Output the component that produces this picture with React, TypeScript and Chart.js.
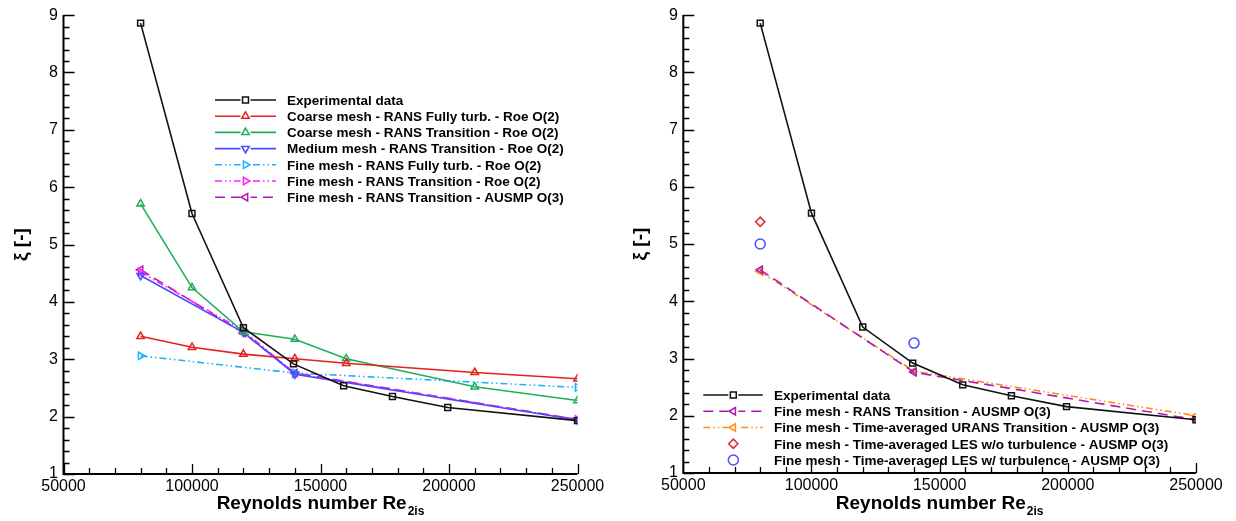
import React, { useEffect, useRef } from "react";
import { Chart, registerables } from "chart.js";
import { drawPoint } from "chart.js/helpers";

Chart.register(...registerables);

// ---------- axis ticks ----------
const xMin = 50000;
const xMax = 250000;
const xStep = 50000;
const xMinorStep = 10000;
const yMin = 1;
const yMax = 9;
const yStep = 1;
const yMinorStep = 0.2;

// ---------- data ----------
const reExp = [80000, 100000, 120000, 139500, 159000, 178000, 199500, 250000];
const xiExp = [8.86, 5.54, 3.55, 2.92, 2.54, 2.35, 2.16, 1.93];

const reCoarse = [80000, 100000, 120000, 140000, 160000, 210000, 250000];
const xiCoarseFT = [3.4, 3.21, 3.09, 3.01, 2.93, 2.77, 2.66];
const xiCoarseTr = [5.71, 4.25, 3.48, 3.35, 3.01, 2.52, 2.28];

const reMedium = [80000, 120000, 140000, 250000];
const xiMediumTr = [4.46, 3.47, 2.74, 1.94];

const reFineFT = [80000, 140000, 250000];
const xiFineFT = [3.06, 2.76, 2.51];

const reFineTrRoe = [80000, 120000, 140000, 250000];
const xiFineTrRoe = [4.52, 3.5, 2.75, 1.95];

const reFineTrAusmpL = [80000, 120000, 140000, 250000];
const xiFineTrAusmpL = [4.56, 3.46, 2.76, 1.95];

const reFineTrAusmpR = [80000, 140000, 250000];
const xiFineTrAusmpR = [4.55, 2.76, 1.93];

const reUrans = [80000, 140000, 250000];
const xiUrans = [4.52, 2.78, 2.0];

const reLesNoTurb = [80000];
const xiLesNoTurb = [5.39];

const reLesTurb = [80000, 140000];
const xiLesTurb = [5.0, 3.27];

const labelsLeft = [
  "Experimental data",
  "Coarse mesh - RANS Fully turb. - Roe O(2)",
  "Coarse mesh - RANS Transition - Roe O(2)",
  "Medium mesh - RANS Transition - Roe O(2)",
  "Fine mesh - RANS Fully turb. - Roe O(2)",
  "Fine mesh - RANS Transition - Roe O(2)",
  "Fine mesh - RANS Transition - AUSMP O(3)",
];
const labelsRight = [
  "Experimental data",
  "Fine mesh - RANS Transition - AUSMP O(3)",
  "Fine mesh - Time-averaged URANS Transition - AUSMP O(3)",
  "Fine mesh - Time-averaged LES w/o turbulence - AUSMP O(3)",
  "Fine mesh - Time-averaged LES w/ turbulence - AUSMP O(3)",
];

const FONT = "'Liberation Sans', Arial, Helvetica, sans-serif";
const DDOT = [7, 3, 1.5, 3, 1.5, 3];

type Style = {
  color: string;
  dash: number[];
  pointStyle: string;
  rotation: number;
  radius: number;
  showLine: boolean;
};

const sExp: Style = { color: "#111111", dash: [], pointStyle: "rect", rotation: 0, radius: 4.2, showLine: true };
const sRed: Style = { color: "#e4211c", dash: [], pointStyle: "triangle", rotation: 0, radius: 4.3, showLine: true };
const sGreen: Style = { color: "#1fae5a", dash: [], pointStyle: "triangle", rotation: 0, radius: 4.3, showLine: true };
const sBlue: Style = { color: "#4b4bff", dash: [], pointStyle: "triangle", rotation: 180, radius: 4.3, showLine: true };
const sCyan: Style = { color: "#1fb0ff", dash: DDOT, pointStyle: "triangle", rotation: 90, radius: 4.3, showLine: true };
const sMagenta: Style = { color: "#ff1fff", dash: DDOT, pointStyle: "triangle", rotation: 90, radius: 4.3, showLine: true };
const sPurple: Style = { color: "#b01ab0", dash: [10, 6], pointStyle: "triangle", rotation: -90, radius: 4.3, showLine: true };
const sOrange: Style = { color: "#ff8c1a", dash: DDOT, pointStyle: "triangle", rotation: -90, radius: 4.3, showLine: true };
const sDiamond: Style = { color: "#e02a2a", dash: [], pointStyle: "rectRot", rotation: 0, radius: 4.6, showLine: false };
const sCircle: Style = { color: "#4d4dff", dash: [], pointStyle: "circle", rotation: 0, radius: 5, showLine: false };

function makeDataset(label: string, re: number[], xi: number[], s: Style) {
  return {
    label,
    data: re.map((x, i) => ({ x, y: xi[i] })),
    borderColor: s.color,
    backgroundColor: "rgba(0,0,0,0)",
    borderWidth: 1.6,
    borderDash: s.dash,
    pointStyle: s.pointStyle,
    rotation: s.rotation,
    pointRadius: s.radius,
    pointBorderWidth: 1.5,
    pointBackgroundColor: "rgba(0,0,0,0)",
    pointBorderColor: s.color,
    showLine: s.showLine,
    fill: false,
    tension: 0,
    _style: s,
  };
}

type Layout = {
  yAxisWidth: number;
  xAxisHeight: number;
  padRight: number;
  padTop: number;
  yTitleX: number;
  legend: { x1: number; x2: number; mx: number; tx: number; y0: number; dy: number };
};

function decorPlugin(layout: Layout) {
  return {
    id: "decor",
    afterDraw(chart: any) {
      const ctx: CanvasRenderingContext2D = chart.ctx;
      const xs = chart.scales.x;
      const ys = chart.scales.y;
      const { left, right, top, bottom } = chart.chartArea;
      ctx.save();
      // axis lines
      ctx.strokeStyle = "#000";
      ctx.lineWidth = 2;
      ctx.setLineDash([]);
      ctx.beginPath();
      ctx.moveTo(left, top);
      ctx.lineTo(left, bottom);
      ctx.lineTo(right, bottom);
      ctx.stroke();
      // inward ticks
      ctx.lineWidth = 1.3;
      ctx.beginPath();
      const nx = Math.round((xMax - xMin) / xMinorStep);
      for (let i = 0; i <= nx; i++) {
        const v = xMin + i * xMinorStep;
        const px = Math.round(xs.getPixelForValue(v)) + 0.5;
        const major = Math.abs((v - xMin) % xStep) < 1e-6;
        ctx.moveTo(px, bottom);
        ctx.lineTo(px, bottom - (major ? 10 : 6));
      }
      const ny = Math.round((yMax - yMin) / yMinorStep);
      for (let i = 0; i <= ny; i++) {
        const v = yMin + i * yMinorStep;
        const py = Math.round(ys.getPixelForValue(v)) + 0.5;
        const major = i % Math.round(yStep / yMinorStep) === 0;
        ctx.moveTo(left, py);
        ctx.lineTo(left + (major ? 11 : 6), py);
      }
      ctx.stroke();

      // x title with subscript
      ctx.fillStyle = "#000";
      const main = "Reynolds number Re";
      const sub = "2is";
      ctx.font = `bold 19px ${FONT}`;
      const wMain = ctx.measureText(main).width;
      ctx.font = `bold 12px ${FONT}`;
      const wSub = ctx.measureText(sub).width;
      const cx = (left + right) / 2;
      const x0 = cx - (wMain + 1 + wSub) / 2;
      ctx.textAlign = "left";
      ctx.textBaseline = "alphabetic";
      ctx.font = `bold 19px ${FONT}`;
      ctx.fillText(main, x0, 508.5);
      ctx.font = `bold 12px ${FONT}`;
      ctx.fillText(sub, x0 + wMain + 1, 514.5);

      // y title
      ctx.save();
      ctx.translate(layout.yTitleX, (top + bottom) / 2);
      ctx.rotate(-Math.PI / 2);
      ctx.font = `bold 19px ${FONT}`;
      ctx.textAlign = "center";
      ctx.textBaseline = "middle";
      ctx.fillText("ξ [-]", 0, 0);
      ctx.restore();

      // legend
      const L = layout.legend;
      chart.data.datasets.forEach((ds: any, i: number) => {
        const s: Style = ds._style;
        const y = L.y0 + i * L.dy;
        ctx.strokeStyle = s.color;
        ctx.lineWidth = 1.6;
        if (s.showLine) {
          ctx.setLineDash(s.dash);
          ctx.beginPath();
          ctx.moveTo(L.x1, y);
          ctx.lineTo(L.x2, y);
          ctx.stroke();
        }
        ctx.setLineDash([]);
        ctx.fillStyle = "#ffffff";
        if (s.showLine) {
          ctx.fillRect(L.mx - 5, y - 5, 10, 10);
        }
        ctx.lineWidth = 1.5;
        drawPoint(ctx, { pointStyle: s.pointStyle as any, rotation: s.rotation, radius: s.radius, borderWidth: 1.5 }, L.mx, y);
        ctx.fillStyle = "#000";
        ctx.font = `bold 13.5px ${FONT}`;
        ctx.textAlign = "left";
        ctx.textBaseline = "alphabetic";
        ctx.fillText(ds.label, L.tx, y + 4.8);
      });
      ctx.restore();
    },
  };
}

function buildOptions(layout: Layout) {
  return {
    responsive: false,
    animation: false as const,
    devicePixelRatio: 1,
    layout: { padding: { left: 0, right: layout.padRight, top: layout.padTop, bottom: 0 } },
    plugins: { legend: { display: false }, tooltip: { enabled: false } },
    scales: {
      x: {
        type: "linear" as const,
        min: xMin,
        max: xMax,
        border: { display: false },
        grid: { display: false, drawTicks: false },
        ticks: {
          stepSize: xStep,
          autoSkip: false,
          maxRotation: 0,
          padding: 3,
          color: "#000",
          font: { family: FONT, size: 16 },
          callback: (v: any) => String(v),
        },
        afterFit: (s: any) => {
          s.height = layout.xAxisHeight;
        },
      },
      y: {
        type: "linear" as const,
        min: yMin,
        max: yMax,
        border: { display: false },
        grid: { display: false, drawTicks: false },
        ticks: {
          stepSize: yStep,
          autoSkip: false,
          padding: 5.5,
          color: "#000",
          font: { family: FONT, size: 16 },
          callback: (v: any) => String(v),
        },
        afterFit: (s: any) => {
          s.width = layout.yAxisWidth;
        },
      },
    },
  };
}

const layoutLeft: Layout = {
  yAxisWidth: 63.5,
  xAxisHeight: 47,
  padRight: 40.5,
  padTop: 11,
  yTitleX: 22,
  legend: { x1: 215, x2: 276, mx: 245.5, tx: 287, y0: 100, dy: 16.2 },
};

const layoutRight: Layout = {
  yAxisWidth: 65.3,
  xAxisHeight: 48,
  padRight: 40,
  padTop: 10.7,
  yTitleX: 23,
  legend: { x1: 85.3, x2: 144.7, mx: 115.3, tx: 156, y0: 395, dy: 16.25 },
};

export default function App() {
  const leftRef = useRef<HTMLCanvasElement>(null);
  const rightRef = useRef<HTMLCanvasElement>(null);

  useEffect(() => {
    const dsLeft = [
      makeDataset(labelsLeft[0], reExp, xiExp, sExp),
      makeDataset(labelsLeft[1], reCoarse, xiCoarseFT, sRed),
      makeDataset(labelsLeft[2], reCoarse, xiCoarseTr, sGreen),
      makeDataset(labelsLeft[3], reMedium, xiMediumTr, sBlue),
      makeDataset(labelsLeft[4], reFineFT, xiFineFT, sCyan),
      makeDataset(labelsLeft[5], reFineTrRoe, xiFineTrRoe, sMagenta),
      makeDataset(labelsLeft[6], reFineTrAusmpL, xiFineTrAusmpL, sPurple),
    ];
    const dsRight = [
      makeDataset(labelsRight[0], reExp, xiExp, sExp),
      makeDataset(labelsRight[1], reFineTrAusmpR, xiFineTrAusmpR, sPurple),
      makeDataset(labelsRight[2], reUrans, xiUrans, sOrange),
      makeDataset(labelsRight[3], reLesNoTurb, xiLesNoTurb, sDiamond),
      makeDataset(labelsRight[4], reLesTurb, xiLesTurb, sCircle),
    ];
    const c1 = new Chart(leftRef.current as HTMLCanvasElement, {
      type: "scatter",
      data: { datasets: dsLeft as any },
      options: buildOptions(layoutLeft) as any,
      plugins: [decorPlugin(layoutLeft) as any],
    });
    const c2 = new Chart(rightRef.current as HTMLCanvasElement, {
      type: "scatter",
      data: { datasets: dsRight as any },
      options: buildOptions(layoutRight) as any,
      plugins: [decorPlugin(layoutRight) as any],
    });
    return () => {
      c1.destroy();
      c2.destroy();
    };
  }, []);

  return (
    <div style={{ position: "fixed", left: 0, top: 0, width: 1236, height: 521, background: "#fff" }}>
      <canvas ref={leftRef} width={618} height={521} style={{ position: "absolute", left: 0, top: 0, width: 618, height: 521 }} />
      <canvas ref={rightRef} width={618} height={521} style={{ position: "absolute", left: 618, top: 0, width: 618, height: 521 }} />
    </div>
  );
}
